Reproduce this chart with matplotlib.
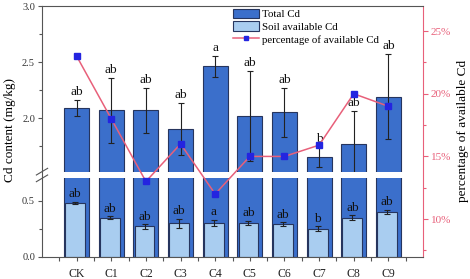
import numpy as np
import matplotlib
matplotlib.use('Agg')
import matplotlib.pyplot as plt
from matplotlib.patches import Patch
from matplotlib.lines import Line2D

plt.rcParams['font.family'] = 'Liberation Serif'

groups = ['CK', 'C1', 'C2', 'C3', 'C4', 'C5', 'C6', 'C7', 'C8', 'C9']
total_cd = [2.09, 2.07, 2.07, 1.90, 2.46, 2.02, 2.05, 1.65, 1.77, 2.19]
total_err = [0.07, 0.29, 0.20, 0.23, 0.09, 0.40, 0.22, 0.09, 0.29, 0.38]
total_sig = ['ab', 'ab', 'ab', 'ab', 'a', 'ab', 'ab', 'b', 'ab', 'ab']
avail_cd = [0.48, 0.35, 0.27, 0.30, 0.30, 0.30, 0.29, 0.25, 0.35, 0.40]
avail_err = [0.01, 0.01, 0.02, 0.04, 0.03, 0.02, 0.02, 0.02, 0.02, 0.02]
avail_sig = ['ab', 'ab', 'ab', 'ab', 'a', 'ab', 'ab', 'b', 'ab', 'ab']
percent = [23.0, 18.0, 13.0, 16.0, 12.0, 15.0, 15.0, 15.9, 20.0, 19.0]

dark = '#3b6fcb'
light = '#a9cdf0'
edge = '#26355e'
red = '#e8607a'
spine_c = '#555555'

W, H = 470, 279
fig = plt.figure(figsize=(W / 100, H / 100), dpi=100)

def box(x0, y0, x1, y1):
    return [x0 / W, 1 - y1 / H, (x1 - x0) / W, (y1 - y0) / H]

ax_top = fig.add_axes(box(42, 6, 423, 172))
ax_bot = fig.add_axes(box(42, 178.3, 423, 256.7))
ax_r = fig.add_axes(box(42, 6, 423, 256.7))

x = np.arange(len(groups))
for a in (ax_top, ax_bot):
    a.bar(x, total_cd, width=0.72, color=dark, edgecolor=edge, linewidth=0.8, zorder=2)
    a.errorbar(x, total_cd, yerr=total_err, fmt='none', ecolor='#222222',
               elinewidth=0.8, capsize=2.5, capthick=0.8, zorder=3)
    a.set_xlim(-1, 10)
    for s in a.spines.values():
        s.set_visible(False)
    a.set_xticks([])
    a.tick_params(axis='y', direction='out', length=3, width=0.8, color=spine_c,
                  labelsize=7.5, labelcolor='#333333', pad=2)

ax_bot.bar(x - 0.04, avail_cd, width=0.57, color=light, edgecolor=edge, linewidth=0.8, zorder=4)
ax_bot.errorbar(x - 0.04, avail_cd, yerr=avail_err, fmt='none', ecolor='#222222',
                elinewidth=0.8, capsize=2.2, capthick=0.8, zorder=5)

ax_top.set_ylim(1.518, 3.0)
ax_top.set_yticks([2.0, 2.5, 3.0])
ax_top.set_yticks([1.75, 2.25, 2.75], minor=True)
ax_top.tick_params(axis='y', which='minor', length=2, width=0.8, color=spine_c)
ax_bot.set_ylim(0, 0.7)
ax_bot.set_yticks([0.0, 0.5])
ax_bot.set_yticks([0.25], minor=True)
ax_bot.tick_params(axis='y', which='minor', length=2, width=0.8, color=spine_c)

for xi, v, e, s in zip(x, total_cd, total_err, total_sig):
    ax_top.annotate(s, (xi, v + e), xytext=(0, 1.5), textcoords='offset points',
                    ha='center', va='bottom', fontsize=9.5, color='#111111', zorder=6)
for xi, v, e, s in zip(x, avail_cd, avail_err, avail_sig):
    ax_bot.annotate(s, (xi - 0.04, v + e), xytext=(0, 1.0), textcoords='offset points',
                    ha='center', va='bottom', fontsize=9.5, color='#111111', zorder=6)

# full-height axes for the percentage line and the frame
ax_r.patch.set_visible(False)
ax_r.plot(x, percent, color=red, linewidth=1.1, marker='s', markersize=3.8,
          markerfacecolor='#2424e0', markeredgecolor='#2424e0', zorder=7)
ax_r.set_xlim(-1, 10)
ax_r.set_ylim(7, 27)
ax_r.yaxis.tick_right()
ax_r.yaxis.set_label_position('right')
ax_r.set_yticks([10, 15, 20, 25])
ax_r.set_yticklabels(['10%', '15%', '20%', '25%'])
ax_r.set_yticks([7.5, 12.5, 17.5, 22.5], minor=True)
ax_r.tick_params(axis='y', which='both', direction='out', color=red, labelcolor=red,
                 labelsize=8, width=0.8, pad=2)
ax_r.tick_params(axis='y', which='major', length=3.5)
ax_r.tick_params(axis='y', which='minor', length=2)
ax_r.set_xticks(x)
ax_r.set_xticklabels(groups)
ax_r.set_xticks(np.arange(-0.5, 10, 1.0), minor=True)
ax_r.tick_params(axis='x', which='both', direction='out', color=spine_c, width=0.8,
                 labelsize=8.5, labelcolor='#222222', pad=5)
ax_r.tick_params(axis='x', which='major', length=3)
ax_r.tick_params(axis='x', which='minor', length=3)
for k in ('left', 'top', 'bottom'):
    ax_r.spines[k].set_color(spine_c)
    ax_r.spines[k].set_linewidth(0.8)
ax_r.spines['right'].set_color(red)
ax_r.spines['right'].set_linewidth(0.8)
ax_r.set_ylabel('percentage of available Cd', fontsize=9.5, labelpad=4)

# break marks on the left spine
by = 1 - 175 / H
bx = 42 / W
for dy in (-0.012, 0.012):
    fig.add_artist(Line2D([bx - 0.012, bx + 0.012], [by + dy - 0.012, by + dy + 0.012],
                          color=spine_c, linewidth=0.8, transform=fig.transFigure))

fig.text(10 / W, 1 - 130 / H, 'Cd content (mg/kg)', rotation=90, ha='center', va='center',
         fontsize=9.5)

handles = [Patch(facecolor=dark, edgecolor=edge, linewidth=0.8),
           Patch(facecolor=light, edgecolor=edge, linewidth=0.8),
           Line2D([], [], color=red, linewidth=1.1, marker='s', markersize=3,
                  markerfacecolor='#2424e0', markeredgecolor='#2424e0')]
fig.legend(handles, ['Total Cd', 'Soil available Cd', 'percentage of available Cd'],
           loc='upper left', bbox_to_anchor=(230 / W, 1 - 6 / H), frameon=False,
           fontsize=7.8, handlelength=2.4, handleheight=1.0, handletextpad=0.3,
           labelspacing=0.2, borderpad=0.25, borderaxespad=0)

fig.savefig('out.png', dpi=100)
